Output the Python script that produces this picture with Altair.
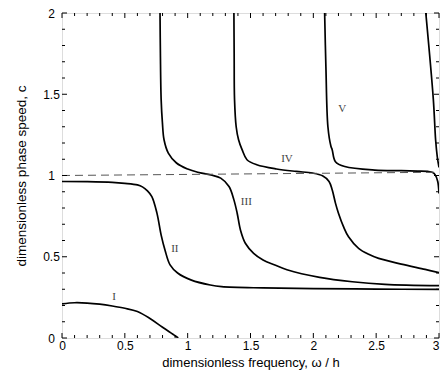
import altair as alt
import pandas as pd

# ---- axis tick values ----
x_major = [0, 0.5, 1, 1.5, 2, 2.5, 3]
y_major = [0, 0.5, 1, 1.5, 2]
x_minor = [round(i * 0.1, 1) for i in range(31) if i % 5]
y_minor = [round(i * 0.1, 1) for i in range(21) if i % 5]

# ---- dispersion curves ----
I_x = [0, 0.1, 0.2, 0.3, 0.4, 0.5, 0.6, 0.7, 0.8, 0.9, 0.925]
I_c = [0.21, 0.217, 0.215, 0.208, 0.197, 0.183, 0.163, 0.12, 0.066, 0.014, 0.0]

II_x = [0, 0.2, 0.4, 0.5, 0.6, 0.64, 0.68, 0.715, 0.755, 0.79, 0.82, 0.86, 0.92,
        1.03, 1.18, 1.27, 1.6, 2.0, 2.5, 3.0]
II_c = [0.963, 0.962, 0.958, 0.952, 0.942, 0.93, 0.905, 0.87, 0.77, 0.63, 0.54, 0.45,
        0.40, 0.356, 0.326, 0.316, 0.308, 0.304, 0.301, 0.299]

III_x = [0.780, 0.783, 0.789, 0.799, 0.812, 0.846, 0.911, 1.0, 1.08, 1.185, 1.263,
         1.329, 1.368, 1.394, 1.42, 1.459, 1.525, 1.60, 1.694, 1.79, 2.05, 2.31, 2.57, 3.0]
III_c = [2.0, 1.75, 1.467, 1.325, 1.22, 1.138, 1.077, 1.04, 1.02, 1.003, 0.984,
         0.932, 0.85, 0.768, 0.665, 0.583, 0.521, 0.48, 0.449, 0.42, 0.373, 0.346, 0.33, 0.322]

IV_x = [1.368, 1.370, 1.373, 1.386, 1.405, 1.433, 1.472, 1.55, 1.707, 1.863, 1.994,
        2.073, 2.125, 2.15, 2.176, 2.2, 2.24, 2.28, 2.36, 2.44, 2.52, 2.70, 2.89, 3.0]
IV_c = [2.0, 1.75, 1.467, 1.30, 1.22, 1.159, 1.097, 1.066, 1.04, 1.025, 1.015,
        0.998, 0.963, 0.912, 0.83, 0.768, 0.685, 0.623, 0.552, 0.515, 0.49, 0.455, 0.422, 0.402]

V_x = [2.09, 2.10, 2.116, 2.14, 2.15, 2.176, 2.25, 2.49, 2.70, 2.83, 2.91, 2.95,
       2.97, 2.99, 3.0]
V_c = [2.0, 1.67, 1.30, 1.18, 1.159, 1.085, 1.055, 1.033, 1.03, 1.027, 1.025, 1.019,
       1.004, 0.963, 0.89]

VI_x = [2.895, 2.955, 2.973, 2.986, 2.994, 3.0]
VI_c = [2.0, 1.467, 1.22, 1.117, 1.076, 1.05]

dash_x = [0, 3]
dash_c = [1.0, 1.02]

label_text = ["I", "II", "III", "IV", "V"]
label_x = [0.415, 0.898, 1.467, 1.79, 2.23]
label_c = [0.25, 0.548, 0.84, 1.103, 1.41]

# ---- build tables ----
rows = []
for name, xs, cs in [("I", I_x, I_c), ("II", II_x, II_c), ("III", III_x, III_c),
                     ("IV", IV_x, IV_c), ("V", V_x, V_c), ("VI", VI_x, VI_c)]:
    for i, (a, b) in enumerate(zip(xs, cs)):
        rows.append({"mode": name, "x": a, "c": b, "order": i})
curves = pd.DataFrame(rows)
dash = pd.DataFrame({"x": dash_x, "c": dash_c})
labels = pd.DataFrame({"t": label_text, "x": label_x, "c": label_c})

W, H = 377, 325
FONT = "Liberation Sans"

xscale = alt.Scale(domain=[0, 3], nice=False, zero=False)
yscale = alt.Scale(domain=[0, 2], nice=False, zero=False)

x_axis = alt.Axis(values=x_major, format="~g", ticks=False, grid=False, domain=False,
                  labelFlush=False, labelFontSize=12, labelPadding=2, labelFont=FONT,
                  labelAlign={"condition": {"test": "datum.value >= 3", "value": "right"},
                              "value": "center"},
                  labelColor="black", title="dimensionless frequency,  \u03c9 / h",
                  titleFont=FONT, titleFontSize=13, titleFontWeight="normal",
                  titleColor="black", titlePadding=5)
y_axis = alt.Axis(values=y_major, format="~g", ticks=False, grid=False, domain=False,
                  labelFontSize=12, labelPadding=11, labelAlign="center", labelFont=FONT,
                  labelColor="black", title="dimensionless phase speed,  c",
                  titleFont=FONT, titleFontSize=13.5, titleFontWeight="normal",
                  titleColor="black", titlePadding=14)

X = lambda f: alt.X(f, scale=xscale, axis=x_axis)
Y = lambda f: alt.Y(f, scale=yscale, axis=y_axis)

lines = alt.Chart(curves).mark_line(color="black", strokeWidth=1.7, clip=True,
                                     interpolate="catmull-rom").encode(
    x=X("x:Q"), y=Y("c:Q"), detail="mode:N", order="order:Q",
)

dashed = alt.Chart(dash).mark_line(color="#555555", strokeWidth=1, strokeDash=[8, 5]).encode(
    x=X("x:Q"), y=Y("c:Q"),
)

text = alt.Chart(labels).mark_text(font="Liberation Serif", fontSize=11, color="#444444").encode(
    x=X("x:Q"), y=Y("c:Q"), text="t:N",
)


def xticks(vals, length, top):
    df = pd.DataFrame({"v": vals})
    y0, y1 = (0, length) if top else (H, H - length)
    return alt.Chart(df).mark_rule(color="black", strokeWidth=1).encode(
        x=X("v:Q"), y=alt.value(y0), y2=alt.value(y1))


def yticks(vals, length, right):
    df = pd.DataFrame({"v": vals})
    x0, x1 = (W, W - length) if right else (0, length)
    return alt.Chart(df).mark_rule(color="black", strokeWidth=1).encode(
        y=Y("v:Q"), x=alt.value(x0), x2=alt.value(x1))


tick_layers = []
for top in (False, True):
    tick_layers.append(xticks(x_major, 5, top))
    tick_layers.append(xticks(x_minor, 3, top))
for right in (False, True):
    tick_layers.append(yticks(y_major, 5, right))
    tick_layers.append(yticks(y_minor, 3, right))

chart = alt.layer(lines, dashed, text, *tick_layers).properties(
    width=W, height=H,
    autosize=alt.AutoSizeParams(type="none"),
    padding={"left": 54, "top": 5, "right": 1, "bottom": 34},
).configure_view(stroke="black", strokeWidth=1).configure(background="white")

chart.save("out.html", embed_options={"renderer": "svg", "actions": False})
